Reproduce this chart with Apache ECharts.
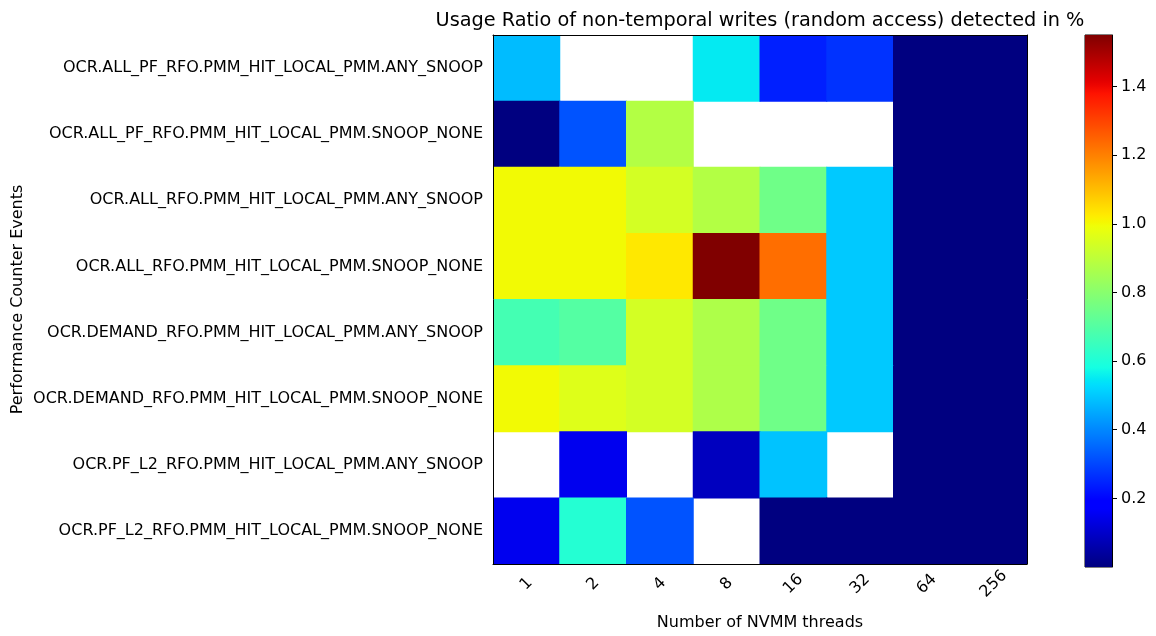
<!DOCTYPE html>
<html>
<head>
<meta charset="utf-8">
<title>Usage Ratio of non-temporal writes</title>
<script src="https://cdn.jsdelivr.net/npm/echarts@6/dist/echarts.min.js"></script>
<style>
  html, body { margin: 0; padding: 0; background: #fff; }
  #chart { width: 1156px; height: 636px; }
</style>
</head>
<body>
<div id="chart"></div>
<script>
// Thread counts along the x axis
const threads = ['1', '2', '4', '8', '16', '32', '64', '256'];

// Performance counter events, top to bottom
const events = [
  'OCR.ALL_PF_RFO.PMM_HIT_LOCAL_PMM.ANY_SNOOP',
  'OCR.ALL_PF_RFO.PMM_HIT_LOCAL_PMM.SNOOP_NONE',
  'OCR.ALL_RFO.PMM_HIT_LOCAL_PMM.ANY_SNOOP',
  'OCR.ALL_RFO.PMM_HIT_LOCAL_PMM.SNOOP_NONE',
  'OCR.DEMAND_RFO.PMM_HIT_LOCAL_PMM.ANY_SNOOP',
  'OCR.DEMAND_RFO.PMM_HIT_LOCAL_PMM.SNOOP_NONE',
  'OCR.PF_L2_RFO.PMM_HIT_LOCAL_PMM.ANY_SNOOP',
  'OCR.PF_L2_RFO.PMM_HIT_LOCAL_PMM.SNOOP_NONE'
];

// Usage ratio in % per event (one entry per thread count); null = not detected
const allPfRfoAnySnoop    = [0.48, null, null, 0.55, 0.24, 0.27, 0, 0];
const allPfRfoSnoopNone   = [0, 0.32, 0.88, null, null, null, 0, 0];
const allRfoAnySnoop      = [1.00, 1.00, 0.94, 0.88, 0.75, 0.50, 0, 0];
const allRfoSnoopNone     = [1.00, 1.00, 1.03, 1.55, 1.23, 0.50, 0, 0];
const demandRfoAnySnoop   = [0.67, 0.70, 0.94, 0.87, 0.75, 0.50, 0, 0];
const demandRfoSnoopNone  = [1.00, 0.96, 0.94, 0.87, 0.75, 0.50, 0, 0];
const pfL2RfoAnySnoop     = [null, 0.15, null, 0.085, 0.49, null, 0, 0];
const pfL2RfoSnoopNone    = [0.15, 0.61, 0.32, null, 0, 0, 0, 0];

// Colour bar tick labels
const colorTicks = [0.2, 0.4, 0.6, 0.8, 1.0, 1.2, 1.4];

const rows = [
  allPfRfoAnySnoop, allPfRfoSnoopNone, allRfoAnySnoop, allRfoSnoopNone,
  demandRfoAnySnoop, demandRfoSnoopNone, pfL2RfoAnySnoop, pfL2RfoSnoopNone
];

const cells = [];
rows.forEach((row, r) => {
  row.forEach((v, c) => {
    if (v !== null) cells.push([c, r, v]);
  });
});

let vmax = 0;
cells.forEach(d => { vmax = Math.max(vmax, d[2]); });

// "jet" colormap, piecewise linear segments
const jetSeg = {
  r: [[0, 0], [0.35, 0], [0.66, 1], [0.89, 1], [1, 0.5]],
  g: [[0, 0], [0.125, 0], [0.375, 1], [0.64, 1], [0.91, 0], [1, 0]],
  b: [[0, 0.5], [0.11, 1], [0.34, 1], [0.65, 0], [1, 0]]
};
function segVal(seg, t) {
  for (let i = 1; i < seg.length; i++) {
    if (t <= seg[i][0]) {
      const [x0, y0] = seg[i - 1], [x1, y1] = seg[i];
      return y0 + (y1 - y0) * (t - x0) / (x1 - x0);
    }
  }
  return seg[seg.length - 1][1];
}
function jet(t) {
  const h = x => Math.round(Math.max(0, Math.min(1, x)) * 255).toString(16).padStart(2, '0');
  return '#' + h(segVal(jetSeg.r, t)) + h(segVal(jetSeg.g, t)) + h(segVal(jetSeg.b, t));
}
const N = 128;
const jetColors = [];
const jetStops = [];
for (let i = 0; i <= N; i++) {
  const t = i / N;
  jetColors.push(jet(t));
  jetStops.push({ offset: 1 - t, color: jet(t) });
}

const FONT = 'DejaVu Sans';
const FS = 16;
const frameLine = { show: true, lineStyle: { color: '#000', width: 1 } };
const chart = echarts.init(document.getElementById('chart'), null, { renderer: 'canvas' });

chart.setOption({
  backgroundColor: '#fff',
  animation: false,
  textStyle: { fontFamily: FONT, color: '#000' },
  title: {
    text: 'Usage Ratio of non-temporal writes (random access) detected in %',
    left: 755, top: 6, textAlign: 'center',
    textStyle: { fontFamily: FONT, fontSize: 19.3, fontWeight: 'normal', color: '#000' }
  },
  grid: [
    { left: 493, top: 35, width: 534, height: 532, show: true, borderWidth: 0, backgroundColor: '#fff' },
    { left: 1085, top: 35, width: 27, height: 532, show: true, borderColor: '#000', borderWidth: 1 }
  ],
  xAxis: [
    {
      gridIndex: 0, type: 'category', data: threads, z: 10,
      name: 'Number of NVMM threads', nameLocation: 'middle', nameGap: 51,
      nameTextStyle: { fontFamily: FONT, fontSize: FS, color: '#000' },
      axisLine: frameLine,
      axisTick: { alignWithLabel: true, length: 5, lineStyle: { color: '#000' } },
      axisLabel: {
        rotate: 45, align: 'center', verticalAlign: 'middle',
        fontFamily: FONT, fontSize: FS, color: '#000', margin: 20
      },
      splitLine: { show: false }
    },
    {
      gridIndex: 1, type: 'category', data: [''], show: false
    },
    {
      // top edge of the plot frame
      gridIndex: 0, type: 'category', data: threads, position: 'top', z: 10,
      axisLine: frameLine, axisTick: { show: false }, axisLabel: { show: false }
    }
  ],
  yAxis: [
    {
      gridIndex: 0, type: 'category', data: events, inverse: true, z: 10,
      name: 'Performance Counter Events', nameLocation: 'middle', nameGap: 467,
      nameRotate: 90,
      nameTextStyle: { fontFamily: FONT, fontSize: FS, color: '#000' },
      axisLine: frameLine,
      axisTick: { alignWithLabel: true, length: 5, lineStyle: { color: '#000' } },
      axisLabel: { fontFamily: FONT, fontSize: FS, color: '#000', margin: 10 },
      splitLine: { show: false }
    },
    {
      gridIndex: 1, type: 'value', min: 0, max: vmax, interval: 0.2, position: 'right',
      axisLine: frameLine,
      axisTick: { show: true, length: 5, lineStyle: { color: '#000' } },
      axisLabel: {
        fontFamily: FONT, fontSize: FS, color: '#000', margin: 9,
        showMinLabel: false, showMaxLabel: false,
        formatter: v => colorTicks.some(t => Math.abs(t - v) < 1e-6) ? v.toFixed(1) : ''
      },
      splitLine: { show: false }
    },
    {
      // right edge of the plot frame
      gridIndex: 0, type: 'category', data: events, inverse: true, position: 'right', z: 10,
      axisLine: frameLine, axisTick: { show: false }, axisLabel: { show: false }
    }
  ],
  visualMap: {
    show: false, type: 'continuous', seriesIndex: 0, dimension: 2,
    min: 0, max: vmax, inRange: { color: jetColors }
  },
  series: [
    {
      // heatmap cells, sized from the category bands; a hairline overlap hides seams
      type: 'custom', xAxisIndex: 0, yAxisIndex: 0, data: cells,
      encode: { x: 0, y: 1 },
      silent: true,
      renderItem: (params, api) => {
        const p = api.coord([api.value(0), api.value(1)]);
        const s = api.size([1, 1]);
        return {
          type: 'rect',
          shape: { x: p[0] - s[0] / 2 - 0.5, y: p[1] - s[1] / 2 - 0.5, width: s[0] + 1, height: s[1] + 1 },
          style: { fill: api.visual('color') }
        };
      },
      clip: true
    },
    {
      // colour bar drawn on its own value axis
      type: 'custom', xAxisIndex: 1, yAxisIndex: 1, silent: true,
      data: [[0, vmax]],
      renderItem: (params, api) => {
        const top = api.coord([0, api.value(1)]);
        const bottom = api.coord([0, 0]);
        const w = api.size([1, 0])[0];
        return {
          type: 'rect',
          shape: { x: top[0] - w / 2, y: top[1], width: w, height: bottom[1] - top[1] },
          style: { fill: new echarts.graphic.LinearGradient(0, 0, 0, 1, jetStops) }
        };
      },
      z: 1
    }
  ]
});
</script>
</body>
</html>
